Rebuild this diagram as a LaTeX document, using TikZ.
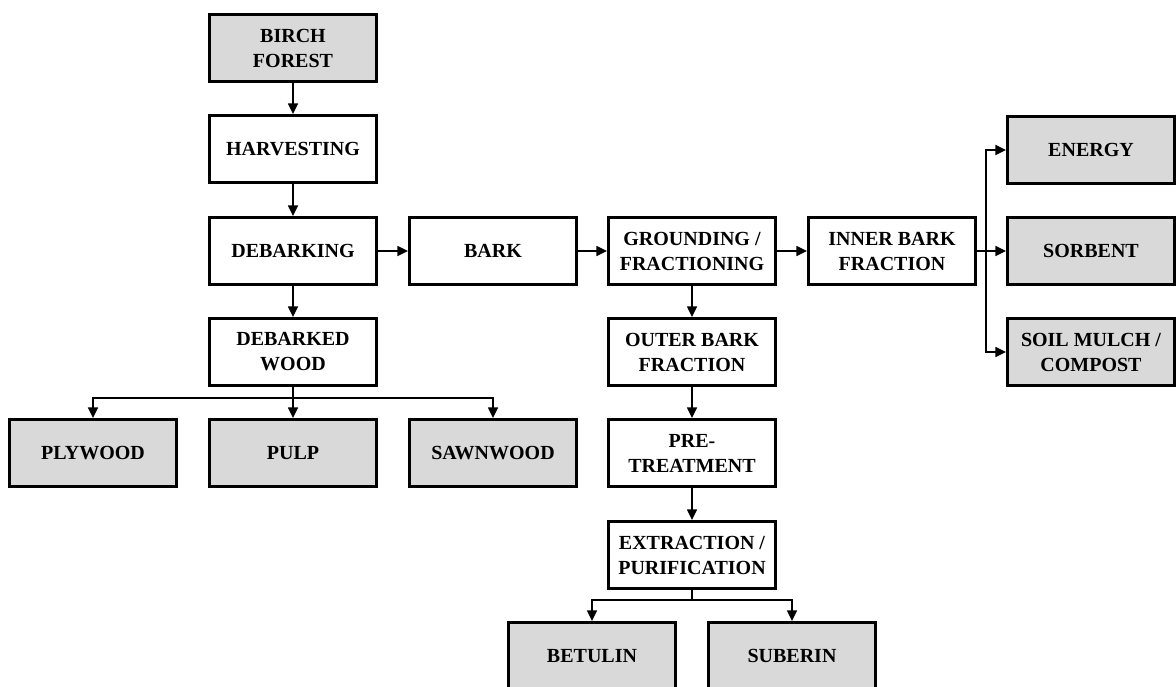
\documentclass[tikz,border=0pt]{standalone}
\usepackage{fontspec}
\setmainfont{Liberation Serif}
\usetikzlibrary{arrows.meta,calc}
\definecolor{prodgray}{HTML}{D9D9D9}
\begin{document}
\begin{tikzpicture}[
  x=0.75pt, y=-0.75pt,
  box/.style={draw=black, line width=2.5pt, fill=white,
    minimum width=125pt, minimum height=50pt, inner sep=2pt, align=center,
    font=\fontsize{15pt}{18.75pt}\selectfont\bfseries},
  prod/.style={box, fill=prodgray},
  conn/.style={line width=1.1pt},
  arr/.style={conn, -{Triangle[length=8pt,width=7.5pt]}}
]
\useasboundingbox (0,0) rectangle (1176,686);
\clip (0,0) rectangle (1176,686);

% wood processing chain
\node[prod] (birch) at (293,48)  {BIRCH\\FOREST};
\node[box]  (harv)  at (293,149) {HARVESTING};
\node[box]  (deb)   at (293,251) {DEBARKING};
\node[box]  (dw)    at (293,352) {DEBARKED\\WOOD};
\node[prod] (ply)   at (93,453)  {PLYWOOD};
\node[prod] (pulp)  at (293,453) {PULP};
\node[prod] (saw)   at (493,453) {SAWNWOOD};

% bark processing chain
\node[box]  (bark)  at (493,251) {BARK};
\node[box]  (grind) at (692,251) {GROUNDING /\\FRACTIONING};
\node[box]  (outer) at (692,352) {OUTER BARK\\FRACTION};
\node[box]  (pre)   at (692,453) {PRE-\\TREATMENT};
\node[box]  (extr)  at (692,555) {EXTRACTION /\\PURIFICATION};
\node[prod] (betul) at (592,656) {BETULIN};
\node[prod] (suber) at (792,656) {SUBERIN};
\node[box]  (inner) at (892,251) {INNER BARK\\FRACTION};
\node[prod] (energy) at (1091,150) {ENERGY};
\node[prod] (sorb)  at (1091,251) {SORBENT};
\node[prod] (soil)  at (1091,352) {SOIL MULCH /\\COMPOST};

% straight connectors
\draw[arr] (birch) -- (harv);
\draw[arr] (harv) -- (deb);
\draw[arr] (deb) -- (dw);
\draw[arr] (deb) -- (bark);
\draw[arr] (bark) -- (grind);
\draw[arr] (grind) -- (inner);
\draw[arr] (grind) -- (outer);
\draw[arr] (outer) -- (pre);
\draw[arr] (pre) -- (extr);

% debarked wood split
\coordinate (dwsplit) at ($(dw.south)+(0,11)$);
\draw[conn] (dw.south) -- (dwsplit);
\draw[arr] (dwsplit) -| (ply.north);
\draw[arr] (dwsplit) -| (saw.north);
\draw[arr] (dwsplit) -- (pulp.north);

% extraction split
\coordinate (exsplit) at ($(extr.south)+(0,10)$);
\draw[conn] (extr.south) -- (exsplit);
\draw[arr] (exsplit) -| (betul.north);
\draw[arr] (exsplit) -| (suber.north);

% inner bark split
\coordinate (ibsplit) at ($(inner.east)+(9,0)$);
\draw[arr] (inner.east) -- (sorb.west);
\draw[arr] (ibsplit) |- (energy.west);
\draw[arr] (ibsplit) |- (soil.west);
\end{tikzpicture}
\end{document}
